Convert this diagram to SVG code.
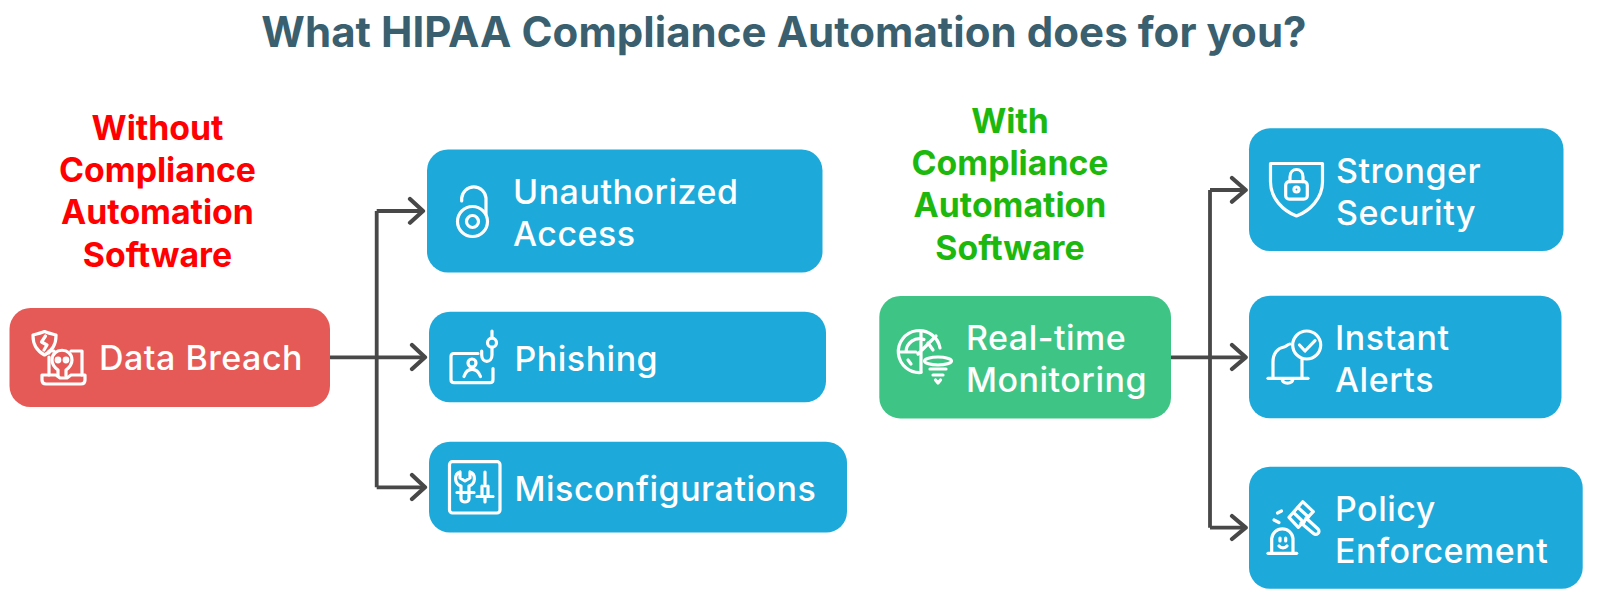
<svg xmlns="http://www.w3.org/2000/svg" width="1600" height="601" viewBox="0 0 1600 601">
<style>
text{font-family:"Inter","Liberation Sans",sans-serif}
.title{font-size:42px;font-weight:700;fill:#3A5F6F;text-anchor:middle;letter-spacing:.05px}
.head{font-size:33.800px;font-weight:700;text-anchor:middle}
.red{fill:#FF0000}.grn{fill:#1DB80E}
.lbl{font-size:34px;font-weight:500;fill:#fff;letter-spacing:.5px}
.blue{fill:#1DA9DA}
.ic{fill:none;stroke:#fff;stroke-width:3.200;stroke-linecap:round;stroke-linejoin:round}
.c{fill:none;stroke:#484848;stroke-width:3.800}
.a{fill:none;stroke:#484848;stroke-width:4.200;stroke-linecap:round;stroke-linejoin:round}
</style>
<rect width="1600" height="601" fill="#fff"/>
<text class="title" x="784" y="47">What HIPAA Compliance Automation does for you?</text>
<g id="heading-without">
<text class="head red" x="157.500" y="139.500">Without</text>
<text class="head red" x="157.500" y="182">Compliance</text>
<text class="head red" x="157.500" y="224">Automation</text>
<text class="head red" x="157.500" y="266.500">Software</text>
</g>
<g id="heading-with">
<text class="head grn" x="1010" y="133">With</text>
<text class="head grn" x="1010" y="175">Compliance</text>
<text class="head grn" x="1010" y="217">Automation</text>
<text class="head grn" x="1010" y="259.500">Software</text>
</g>
<g id="connectors">
<path class="c" d="M327 357.300H423M376.700 211V487.300M376.700 211H421M376.700 487.300H423"/>
<path class="a" d="M410 199L423 211L410 222.700M412 345L425 357.300L412 369M412 475L425 487.300L412 499"/>
<path class="c" d="M1171 357.300H1244M1210 190V527.700M1210 190H1244M1210 527.700H1244"/>
<path class="a" d="M1232 178L1245.700 190L1232 201.700M1232 345L1245.700 357.300L1232 369M1232 516L1245.700 527.700L1232 539"/>
</g>
<g id="node-data-breach">
<rect x="9.500" y="308" width="320.500" height="99" rx="21" fill="#E55A56"/>
<g class="ic">
<path d="M33 336C33 345 37 351 44.500 355C52 351 56 345 56 336V335C52 334 48 333 44.500 331.500C41 333 37 334 33 335Z"/>
<path d="M45.500 336L41.500 342L47 345L44 350"/>
<path d="M49 357V375M54 351H49V353M71 351H82V375"/>
<path d="M42 375H56L60 378H67L71 375H85V380C85 382 84 384 81 384H46C43 384 42 382 42 380Z"/>
<path d="M58 376V370C54 367 52 364 52 360C52 347 72 347 72 360C72 364 70 367 66 370V376"/>
<circle cx="58" cy="360" r="1.800"/><circle cx="66" cy="360" r="1.800"/>
</g>
<text class="lbl" x="99" y="370">Data Breach</text>
</g>
<g id="node-unauthorized">
<rect class="blue" x="427" y="149.500" width="395.500" height="123" rx="21"/>
<g class="ic">
<path d="M461.700 201V198A12.200 12.200 0 0 1 486 198V214"/>
<circle cx="472.500" cy="221.500" r="15"/>
<circle cx="472.500" cy="221.500" r="6"/>
</g>
<text class="lbl" x="513" y="203.500">Unauthorized</text>
<text class="lbl" x="513" y="246">Access</text>
</g>
<g id="node-phishing">
<rect class="blue" x="429" y="311.700" width="397" height="90.600" rx="21"/>
<g class="ic">
<path d="M478 353.500H454C452 353.500 451 354.500 451 356.500V379.500C451 381.500 452 382.700 454 382.700H490C492 382.700 493 381.500 493 379.500V368.500"/>
<path d="M464 376.500C467 367 477 367 480.500 376.500"/>
<circle cx="472" cy="363" r="4"/>
<path d="M492 331V337.500"/>
<circle cx="492" cy="342.700" r="4.500"/>
<path d="M492 347.500V355C492 363.500 481.700 363.500 481.700 355V351"/>
</g>
<text class="lbl" x="514.500" y="371">Phishing</text>
</g>
<g id="node-misconfigurations">
<rect class="blue" x="429" y="441.700" width="418" height="90.900" rx="21"/>
<g class="ic">
<rect x="449.500" y="461.700" width="50.500" height="51.300" rx="3"/>
<path d="M460 472C454 474 454 484 461 486V492M470 472C476 474 476 484 469 486V492M460 472V478L465 481L470 478V472"/>
<path d="M457 492.500H474M461 492.500V499C461 503 469 503 469 499V492.500"/>
<path d="M485 472V486M482 486V496.500M488 486V496.500M477 496.500H493M485 497V502"/>
</g>
<text class="lbl" x="514.500" y="501">Misconfigurations</text>
</g>
<g id="node-realtime">
<rect x="879.300" y="296" width="291.700" height="122.400" rx="21" fill="#3EC585"/>
<g class="ic">
<path d="M940 348A21 21 0 1 0 921 372.500"/>
<path d="M898.500 352H916M921 331V372M906 352A13.500 13.500 0 0 1 924 339.500M908 360L911 364M918 354L936 336M928 343L933 350"/>
<ellipse cx="938" cy="361" rx="13.500" ry="4"/>
<path d="M930 369H946M933 375H943M935.500 380L938 383L940.500 380"/>
</g>
<text class="lbl" x="966" y="350">Real-time</text>
<text class="lbl" x="966" y="392">Monitoring</text>
</g>
<g id="node-stronger">
<rect class="blue" x="1249" y="128.300" width="314.500" height="122.700" rx="21"/>
<g class="ic">
<path d="M1270.500 163.500H1322.500V182C1322.500 198 1310 211 1296.500 216C1283 211 1270.500 198 1270.500 182Z"/>
<rect x="1285.700" y="181.700" width="21.600" height="17.500" rx="3.500"/>
<path d="M1290 181.700V177C1290 167 1303 167 1303 177V181.700"/>
<circle cx="1296.500" cy="189.500" r="2.500"/>
</g>
<text class="lbl" x="1336" y="182.500">Stronger</text>
<text class="lbl" x="1336" y="225">Security</text>
</g>
<g id="node-instant">
<rect class="blue" x="1249" y="295.700" width="312.500" height="122.600" rx="21"/>
<g class="ic">
<path d="M1273 378V362C1273 353 1278 348 1284 347C1287 346 1288 344 1290 344"/>
<path d="M1302 360V378"/>
<path d="M1268 378.300H1308"/>
<path d="M1282 379C1283 384.500 1292 384.500 1293 379"/>
<circle cx="1306.700" cy="345" r="14"/>
<path d="M1299.500 345L1305 351L1315 340.700"/>
</g>
<text class="lbl" x="1335" y="350">Instant</text>
<text class="lbl" x="1335" y="392">Alerts</text>
</g>
<g id="node-policy">
<rect class="blue" x="1249" y="466.700" width="333.700" height="122.100" rx="21"/>
<g class="ic">
<path d="M1271.700 553V538.500A10.700 10.700 0 0 1 1293 538.500V553"/>
<path d="M1268 553.300H1296.700"/>
<path d="M1280 538V541M1285.700 538V541M1279 546C1281 548.500 1285 548.500 1287 546"/>
<path d="M1274 520L1279 522.500M1277.500 513L1281.500 511"/>
<path d="M1289 517.300L1302.700 501.700L1313.300 511.700L1298.300 527.300Z"/>
<path d="M1293.500 512.500L1304 522.500M1298 507.500L1308.500 517"/>
<path d="M1306 518L1318 529C1321 532 1316.500 536 1313.500 533.500L1301 523"/>
</g>
<text class="lbl" x="1335" y="521">Policy</text>
<text class="lbl" x="1335" y="563">Enforcement</text>
</g>
</svg>
